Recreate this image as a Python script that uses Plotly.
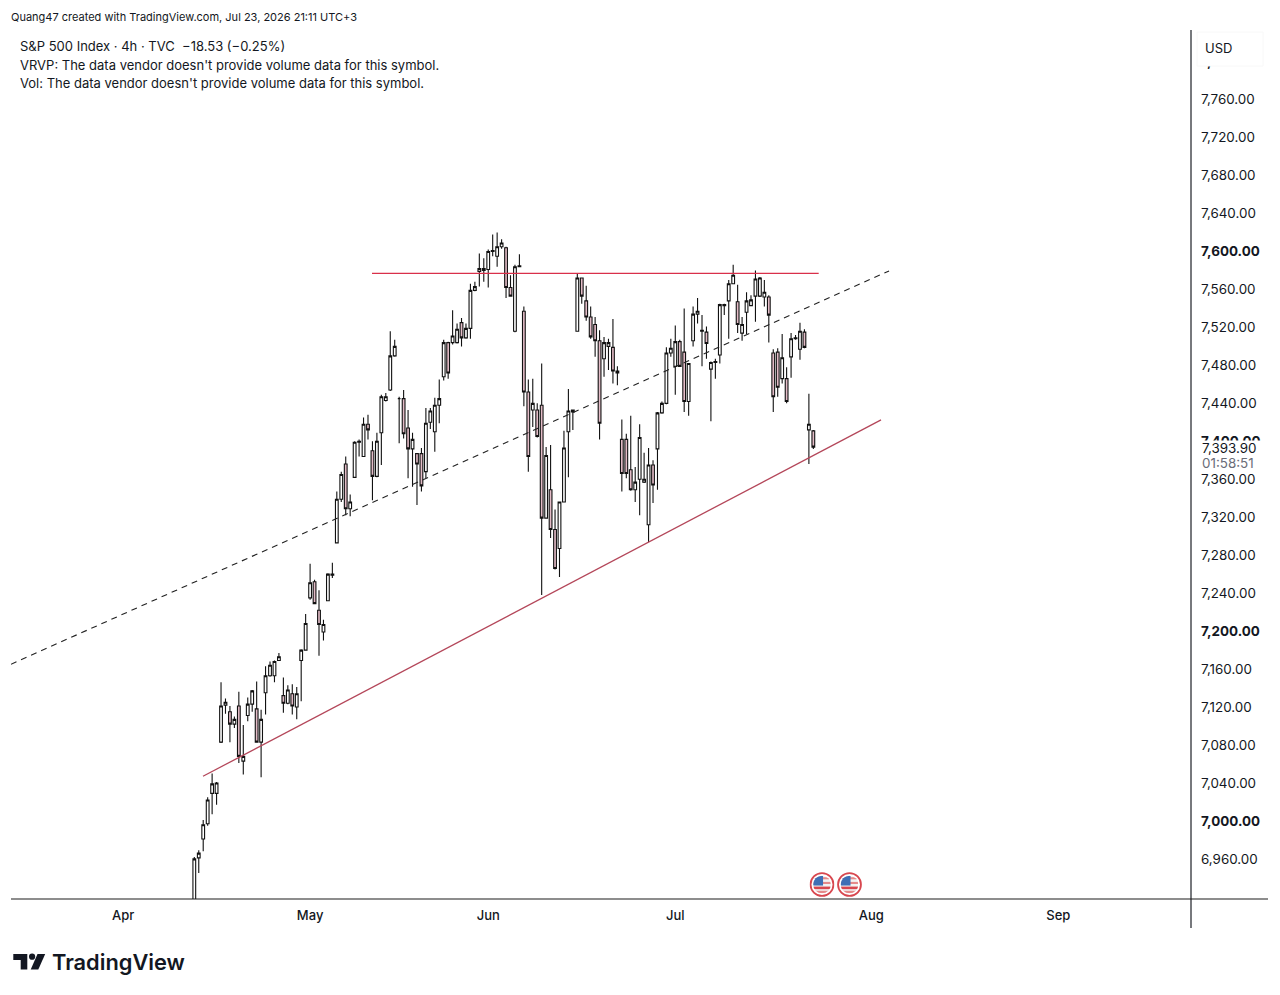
import base64
import plotly.graph_objects as go

# 4h candles, oldest first
bar_open = [6900,6961,6981,6997,7029,7029,7083,7122,7115,7102,7121,7063,7111,7123,7118,7083,7135,7153,7153,7169,
            7132,7124,7134,7120,7169,7180,7235,7252,7222,7199,7232,7259,7293,7339,7376,7329,7362,7399,7384,7418,
            7390,7363,7409,7443,7454,7490,7445,7445,7414,7392,7387,7387,7368,7420,7410,7438,7468,7504,7504,7504,
            7525,7509,7519,7559,7579,7580,7581,7600,7595,7605,7604,7562,7516,7584,7537,7452,7433,7433,7438,7319,
            7349,7307,7287,7336,7410,7431,7516,7572,7548,7531,7523,7506,7487,7500,7499,7472,7402,7402,7370,7349,
            7360,7357,7312,7375,7392,7430,7440,7493,7479,7505,7494,7442,7506,7534,7516,7515,7476,7483,7491,7543,
            7548,7566,7547,7514,7536,7543,7553,7553,7552,7552,7493,7494,7466,7466,7489,7508,7497,7515,7412,7411]
bar_high = [6962,6969,7001,7025,7050,7041,7146,7129,7121,7110,7136,7101,7130,7138,7147,7117,7163,7168,7169,7177,
            7151,7143,7144,7141,7181,7218,7271,7254,7243,7212,7261,7272,7347,7368,7384,7344,7400,7402,7425,7428,
            7400,7409,7449,7451,7516,7507,7447,7454,7433,7409,7387,7393,7435,7435,7446,7465,7507,7505,7538,7524,
            7530,7524,7566,7568,7598,7593,7602,7618,7620,7613,7605,7575,7586,7597,7542,7465,7466,7440,7482,7394,
            7396,7328,7336,7411,7455,7433,7577,7572,7564,7542,7531,7517,7510,7508,7529,7479,7423,7408,7427,7373,
            7418,7388,7393,7380,7431,7442,7499,7508,7522,7507,7540,7482,7542,7551,7533,7521,7484,7487,7545,7545,
            7570,7586,7565,7531,7557,7554,7580,7573,7570,7554,7497,7498,7513,7478,7514,7512,7525,7518,7450,7412]
bar_low = [6890,6945,6968,6995,7007,7017,7082,7113,7083,7098,7061,7049,7105,7115,7083,7046,7112,7152,7146,7169,
           7114,7123,7112,7107,7126,7180,7233,7229,7174,7190,7232,7256,7293,7336,7322,7321,7362,7384,7384,7402,
           7338,7362,7375,7442,7453,7489,7398,7403,7361,7352,7333,7347,7361,7413,7389,7419,7464,7466,7502,7503,
           7500,7508,7508,7558,7563,7568,7562,7595,7584,7603,7551,7553,7515,7584,7437,7368,7415,7404,7238,7319,
           7298,7265,7257,7336,7362,7412,7516,7545,7527,7508,7489,7402,7468,7475,7461,7459,7347,7361,7348,7336,
           7322,7356,7294,7335,7349,7429,7439,7489,7449,7479,7431,7427,7500,7524,7479,7487,7421,7466,7482,7533,
           7508,7566,7514,7506,7513,7543,7526,7552,7542,7504,7431,7447,7461,7440,7467,7507,7486,7498,7376,7392]
bar_close = [6960,6966,6996,7022,7039,7040,7121,7125,7102,7107,7068,7068,7123,7137,7083,7107,7153,7164,7168,7173,
             7124,7138,7121,7134,7180,7208,7251,7229,7207,7207,7260,7260,7339,7365,7329,7336,7399,7400,7418,7412,
             7363,7400,7447,7447,7490,7500,7445,7408,7392,7402,7376,7353,7419,7432,7438,7445,7504,7472,7511,7518,
             7509,7519,7559,7563,7582,7582,7600,7601,7605,7609,7562,7553,7584,7585,7452,7384,7440,7405,7319,7385,
             7307,7266,7336,7393,7432,7433,7572,7553,7531,7510,7506,7419,7504,7504,7474,7474,7366,7366,7349,7357,
             7404,7360,7375,7354,7430,7440,7493,7498,7505,7479,7442,7482,7534,7537,7517,7503,7483,7484,7544,7544,
             7566,7575,7523,7523,7548,7549,7571,7572,7557,7533,7447,7457,7488,7442,7508,7509,7516,7499,7418,7393.9]

# Drawn trend lines (bar position, price)
resistance_x = [39.9, 140.2]
resistance_y = [7577, 7577]
support_x = [1.95, 154.2]
support_y = [7047, 7422.5]
channel_x = [-41.16, 156]
channel_y = [7165, 7579.5]

# Axis labels
price_ticks = [6960, 7000, 7040, 7080, 7120, 7160, 7200, 7240, 7280, 7320, 7360, 7400, 7440, 7480, 7520, 7560,
               7600, 7640, 7680, 7720, 7760, 7800]
price_round = [7000, 7200, 7400, 7600, 7800]
month_ticks = [-16, 26, 66, 108, 152, 194]
month_labels = ["Apr", "May", "Jun", "Jul", "Aug", "Sep"]

header = "Quang47 created with TradingView.com, Jul 23, 2026 21:11 UTC+3"
legend_rows = ["S&P 500 Index · 4h · TVC  −18.53 (−0.25%)",
               "VRVP: The data vendor doesn't provide volume data for this symbol.",
               "Vol: The data vendor doesn't provide volume data for this symbol."]
last_price = "7,393.90"
countdown = "01:58:51"

W, H = 1280, 995
L, R, T, B = 11, 1191, 30, 899
FONT = "Inter, Liberation Sans, sans-serif"
INK = "#131722"


def px(x):
    return (x - L) / (R - L)


def py(y):
    return (B - y) / (B - T)


def price_label(v):
    text = f"{v:,.2f}"
    return f"<b>{text}</b>" if v in price_round else text


def note(x, y, text, size=13, color=INK, weight=400):
    return dict(xref="paper", yref="paper", x=px(x), y=py(y), text=text, showarrow=False,
                xanchor="left", yanchor="middle", align="left",
                font=dict(family=FONT, size=size, color=color, weight=weight))


def rule(x0, y0, x1, y1, color, width=1):
    return dict(type="line", xref="paper", yref="paper", x0=px(x0), y0=py(y0), x1=px(x1), y1=py(y1),
                line=dict(color=color, width=width), layer="above")


def cover(x0, y0, x1, y1, edge="rgba(0,0,0,0)"):
    return dict(type="rect", xref="paper", yref="paper", x0=px(x0), y0=py(y0), x1=px(x1), y1=py(y1),
                fillcolor="#ffffff", line=dict(color=edge, width=1), layer="above")


fig = go.Figure()
fig.add_trace(go.Candlestick(
    x=list(range(len(bar_open))), open=bar_open, high=bar_high, low=bar_low, close=bar_close,
    increasing=dict(fillcolor="#ffffff", line=dict(color="#111111", width=1.1)),
    decreasing=dict(fillcolor="#e3bcc7", line=dict(color="#111111", width=1.1)),
    whiskerwidth=0, showlegend=False, hoverinfo="skip"))
fig.add_trace(go.Scatter(x=channel_x, y=channel_y, mode="lines", showlegend=False, hoverinfo="skip",
                         line=dict(color="#222222", width=1.1, dash="6px,5px")))
fig.add_trace(go.Scatter(x=support_x, y=support_y, mode="lines", showlegend=False, hoverinfo="skip",
                         line=dict(color="#b4475a", width=1.3)))
fig.add_trace(go.Scatter(x=resistance_x, y=resistance_y, mode="lines", showlegend=False, hoverinfo="skip",
                         line=dict(color="#d9304a", width=1.3)))

# US economic-event badge
flag_svg = """<svg xmlns="http://www.w3.org/2000/svg" viewBox="0 0 48 48">
<defs><clipPath id="c"><circle cx="24" cy="24" r="17"/></clipPath></defs>
<circle cx="24" cy="24" r="22" fill="#fff" stroke="#d8474f" stroke-width="3.5"/>
<g clip-path="url(#c)"><rect x="7" y="7" width="34" height="34" fill="#f3f3f3"/>
<rect x="7" y="10" width="34" height="4" fill="#e58a8a"/><rect x="7" y="19" width="34" height="4" fill="#e58a8a"/>
<rect x="7" y="28" width="34" height="5" fill="#d8474f"/><rect x="7" y="36" width="34" height="5" fill="#e58a8a"/>
<rect x="7" y="7" width="19" height="19" fill="#3f6fb5"/></g></svg>"""
flag_uri = "data:image/svg+xml;base64," + base64.b64encode(flag_svg.encode()).decode()
images = [dict(source=flag_uri, xref="paper", yref="paper", x=px(cx - 12.5), y=py(884.5 - 12.5),
               sizex=25 / (R - L), sizey=25 / (B - T), xanchor="left", yanchor="top", layer="above")
          for cx in (822, 849.5)]

logo_paths = [
    f"M {px(13.3)},{py(954)} L {px(27.3)},{py(954)} L {px(27.3)},{py(969.5)} L {px(20.7)},{py(969.5)} "
    f"L {px(20.7)},{py(960)} L {px(13.3)},{py(960)} Z",
    f"M {px(37.5)},{py(954)} L {px(45.2)},{py(954)} L {px(38.3)},{py(969.5)} L {px(30.7)},{py(969.5)} Z",
]
shapes = [
    cover(1197, 32, 1263, 66, "#f8f8f8"),   # currency box hides the top price label
    cover(1197, 440.5, 1263, 470),          # last-price tag sits over the 7,400 label
    rule(R, T, R, 928, "#4a4d52", 1.5),
    rule(L, B, 1268, B, "#1c1c1c", 1.2),
]
shapes += [dict(type="path", xref="paper", yref="paper", path=p, fillcolor="#131722", line=dict(width=0))
           for p in logo_paths]
shapes.append(dict(type="circle", xref="paper", yref="paper", x0=px(29), y0=py(953.6), x1=px(35.2), y1=py(959.8),
                   fillcolor="#131722", line=dict(width=0)))

annotations = [note(9, 17, header, size=11)]
annotations += [note(18, y, t, size=13) for y, t in zip((46.5, 65, 83.5), legend_rows)]
annotations += [
    note(1203, 47.5, "USD", size=13),
    note(1200, 448, last_price, size=13.4),
    note(1200, 463, countdown, size=13.4, color="#6a6d78"),
    note(49.5, 962, "TradingView", size=21.8, weight=600),
]

fig.update_layout(
    width=W, height=H, autosize=False,
    margin=dict(l=L, r=W - R, t=T, b=H - B, pad=0),
    paper_bgcolor="#ffffff", plot_bgcolor="#ffffff",
    boxgap=0.12, showlegend=False, hovermode=False,
    shapes=shapes, annotations=annotations, images=images,
    xaxis=dict(range=[-41.16, 223.8], rangeslider=dict(visible=False), showgrid=False, zeroline=False,
               showline=False, tickmode="array", tickvals=month_ticks, ticktext=month_labels, ticks="",
               ticklabelstandoff=7, tickfont=dict(family=FONT, size=13, color=INK, weight=500)),
    yaxis=dict(range=[6917.7, 7833.4], side="right", showgrid=False, zeroline=False, showline=False,
               tickmode="array", tickvals=price_ticks, ticktext=[price_label(v) for v in price_ticks], ticks="",
               ticklabelstandoff=9, tickfont=dict(family=FONT, size=13.4, color=INK)),
)

fig.write_html("out.html", config=dict(displayModeBar=False))
